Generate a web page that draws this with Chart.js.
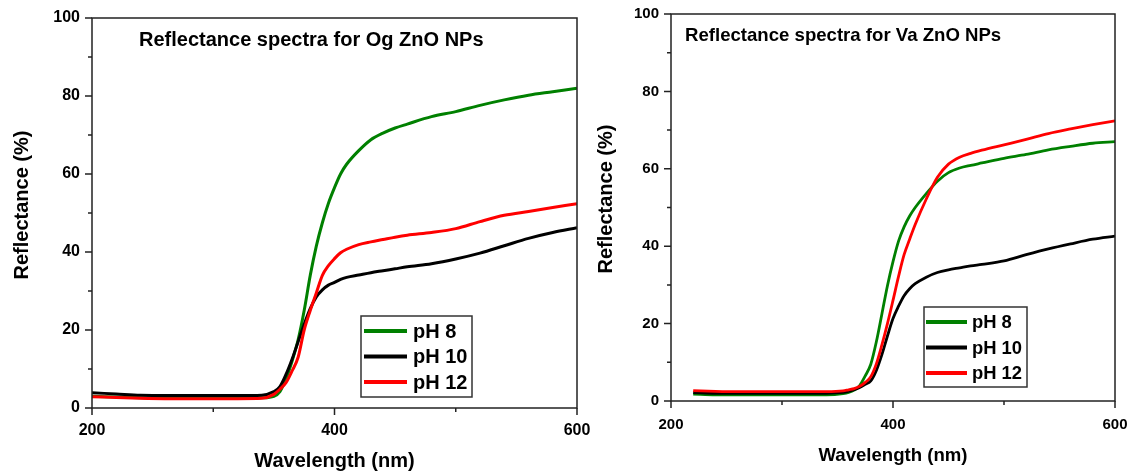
<!DOCTYPE html>
<html lang="en">
<head>
  <meta charset="UTF-8" />
  <title>Reflectance spectra for Og / Va ZnO NPs</title>
  <style>
    body { margin: 0; background: #fff; }
    .wrap { position: relative; width: 1133px; height: 473px; }
    canvas { position: absolute; top: 0; }
    #ogChart { left: 0; }
    #vaChart { left: 580px; }
  </style>
</head>
<body>
  <div class="wrap">
    <canvas id="ogChart" width="600" height="473"></canvas>
    <canvas id="vaChart" width="553" height="473"></canvas>
  </div>

  <script src="https://cdn.jsdelivr.net/npm/chart.js"></script>
  <script>
    // series names / colours
    const seriesLabels = ['pH 8', 'pH 10', 'pH 12'];
    const seriesColors = ['#008000', '#000000', '#ff0000'];

    // axis ticks
    const xMajor = [200, 400, 600];
    const xMinor = [300, 500];
    const yMajor = [0, 20, 40, 60, 80, 100];
    const yMinor = [10, 30, 50, 70, 90];

    // Og ZnO NPs (left panel)
    const ogWave = [200, 220, 240, 260, 280, 300, 320, 340, 350, 355, 360, 365, 370, 375, 380, 385, 390, 395,
                    400, 405, 410, 420, 430, 440, 450, 460, 480, 500, 520, 540, 560, 580, 600];
    const ogPH8  = [3.0, 2.8, 2.6, 2.5, 2.5, 2.5, 2.5, 2.6, 3.0, 4.2, 7.5, 12, 17.5, 25, 34, 41.5, 47.5, 52.5,
                    56.5, 60, 62.5, 66, 68.8, 70.5, 71.8, 72.8, 74.7, 76, 77.6, 79, 80.2, 81.1, 82];
    const ogPH10 = [3.9, 3.6, 3.3, 3.2, 3.2, 3.2, 3.2, 3.3, 4.2, 5.5, 8.6, 12.5, 17, 21.5, 25.5, 28.5, 30.3, 31.5,
                    32.2, 33, 33.5, 34.1, 34.7, 35.2, 35.7, 36.2, 37, 38.2, 39.7, 41.6, 43.5, 45, 46.2];
    const ogPH12 = [2.9, 2.7, 2.5, 2.4, 2.4, 2.4, 2.4, 2.5, 3.5, 4.8, 6.5, 9.5, 13, 20, 25, 29.5, 34, 36.5,
                    38.3, 39.8, 40.7, 41.9, 42.6, 43.2, 43.8, 44.3, 45, 46, 47.8, 49.4, 50.4, 51.4, 52.4];

    // Va ZnO NPs (right panel)
    const vaWave = [220, 240, 260, 280, 300, 320, 340, 355, 360, 365, 370, 375, 380, 385, 390, 395, 400, 405,
                    410, 415, 420, 430, 440, 450, 460, 470, 480, 500, 520, 540, 560, 580, 600];
    const vaPH8  = [1.8, 1.6, 1.6, 1.6, 1.6, 1.6, 1.6, 1.9, 2.2, 2.8, 4, 6.5, 9.5, 15.3, 22.5, 29.8, 36, 41.3,
                    45, 47.8, 50, 53.6, 56.8, 59, 60.2, 60.9, 61.5, 62.7, 63.7, 64.9, 65.8, 66.6, 67];
    const vaPH10 = [2.2, 2.0, 2.0, 2.0, 2.0, 2.0, 2.0, 2.2, 2.5, 2.9, 3.5, 4.3, 5.2, 7.9, 12, 16.8, 21.3, 24.5,
                    27.2, 29, 30.3, 32, 33.2, 33.9, 34.4, 34.9, 35.3, 36.2, 37.8, 39.3, 40.6, 41.8, 42.6];
    const vaPH12 = [2.7, 2.5, 2.4, 2.4, 2.4, 2.4, 2.4, 2.6, 2.9, 3.2, 3.8, 4.8, 6.3, 9.6, 14.5, 20, 26, 32.2,
                    37.8, 41.8, 45.6, 52.2, 57.8, 61.2, 63, 64, 64.8, 66.2, 67.6, 69.1, 70.3, 71.4, 72.4];

    const FONT = "'Liberation Sans', Arial, sans-serif";
    Chart.defaults.font.family = FONT;
    Chart.defaults.color = '#000';

    // frame, tick marks, inner title, y title and legend box
    const decor = {
      id: 'decor',
      afterDraw(chart, args, o) {
        const { ctx, chartArea: a, scales: { x, y } } = chart;
        ctx.save();
        ctx.strokeStyle = '#222';
        ctx.lineWidth = 1.5;
        ctx.strokeRect(a.left, a.top, a.right - a.left, a.bottom - a.top);

        ctx.beginPath();
        xMajor.forEach(v => { const p = x.getPixelForValue(v); ctx.moveTo(p, a.bottom); ctx.lineTo(p, a.bottom + o.major); });
        xMinor.forEach(v => { const p = x.getPixelForValue(v); ctx.moveTo(p, a.bottom); ctx.lineTo(p, a.bottom + o.minor); });
        yMajor.forEach(v => { const p = y.getPixelForValue(v); ctx.moveTo(a.left, p); ctx.lineTo(a.left - o.major, p); });
        yMinor.forEach(v => { const p = y.getPixelForValue(v); ctx.moveTo(a.left, p); ctx.lineTo(a.left - o.minor, p); });
        ctx.stroke();

        ctx.fillStyle = '#000';
        ctx.textBaseline = 'middle';
        ctx.textAlign = 'left';
        ctx.font = `bold ${o.titleSize}px ${FONT}`;
        ctx.fillText(o.title, o.titleX, o.titleY);

        ctx.save();
        ctx.translate(o.yTitleX, o.yTitleY);
        ctx.rotate(-Math.PI / 2);
        ctx.textAlign = 'center';
        ctx.font = `bold ${o.yTitleSize}px ${FONT}`;
        ctx.fillText('Reflectance (%)', 0, 0);
        ctx.restore();

        const L = o.legend;
        ctx.strokeStyle = '#333';
        ctx.lineWidth = 1.5;
        ctx.strokeRect(L.x, L.y, L.w, L.h);
        ctx.font = `bold ${L.size}px ${FONT}`;
        chart.data.datasets.forEach((ds, i) => {
          const ry = L.y + L.row0 + i * L.gap;
          ctx.strokeStyle = ds.borderColor;
          ctx.lineWidth = 4;
          ctx.beginPath();
          ctx.moveTo(L.x + L.line0, ry);
          ctx.lineTo(L.x + L.line1, ry);
          ctx.stroke();
          ctx.fillStyle = '#000';
          ctx.fillText(ds.label, L.x + L.text, ry + 1);
        });
        ctx.restore();
      }
    };

    function makeChart(id, wave, values, c) {
      return new Chart(document.getElementById(id), {
        type: 'line',
        data: {
          labels: wave,
          datasets: values.map((vals, i) => ({
            label: seriesLabels[i],
            data: vals.map((v, j) => ({ x: wave[j], y: v })),
            borderColor: seriesColors[i],
            borderWidth: c.lineWidth,
            pointRadius: 0,
            cubicInterpolationMode: 'monotone',
            order: 3 - i
          }))
        },
        options: {
          responsive: false,
          animation: false,
          events: [],
          layout: { padding: c.padding, autoPadding: false },
          plugins: {
            legend: { display: false },
            tooltip: { enabled: false },
            decor: c.decor
          },
          scales: {
            x: {
              type: 'linear',
              min: 200, max: 600,
              grid: { display: false, drawTicks: false },
              border: { display: false },
              afterBuildTicks: s => { s.ticks = xMajor.map(v => ({ value: v })); },
              afterFit: s => { s.height = c.xHeight; s.paddingLeft = 0; s.paddingRight = 0; },
              ticks: { font: { size: c.tickSize, weight: 'bold' }, padding: c.xPad, maxRotation: 0 },
              title: {
                display: true,
                text: 'Wavelength (nm)',
                font: { size: c.xTitleSize, weight: 'bold' },
                padding: { top: 0, bottom: c.xTitlePad }
              }
            },
            y: {
              min: 0, max: 100,
              grid: { display: false, drawTicks: false },
              border: { display: false },
              afterBuildTicks: s => { s.ticks = yMajor.map(v => ({ value: v })); },
              afterFit: s => { s.width = c.yWidth; s.paddingTop = 0; s.paddingBottom = 0; },
              ticks: { font: { size: c.tickSize, weight: 'bold' }, padding: c.yPad }
            }
          }
        },
        plugins: [decor]
      });
    }

    makeChart('ogChart', ogWave, [ogPH8, ogPH10, ogPH12], {
      lineWidth: 3,
      padding: { left: 0, right: 23, top: 18, bottom: 0 },
      yWidth: 92, xHeight: 65,
      tickSize: 16, xPad: 13, yPad: 12,
      xTitleSize: 20, xTitlePad: 0,
      decor: {
        major: 7, minor: 4,
        title: 'Reflectance spectra for Og ZnO NPs', titleSize: 20, titleX: 139, titleY: 40,
        yTitleX: 22, yTitleY: 205, yTitleSize: 20,
        legend: { x: 361, y: 316, w: 111, h: 81, row0: 15, gap: 25.5, line0: 3, line1: 46, text: 52, size: 20 }
      }
    });

    makeChart('vaChart', vaWave, [vaPH8, vaPH10, vaPH12], {
      lineWidth: 2.8,
      padding: { left: 0, right: 18, top: 14, bottom: 0 },
      yWidth: 91, xHeight: 72,
      tickSize: 15, xPad: 15, yPad: 12,
      xTitleSize: 18.6, xTitlePad: 6,
      decor: {
        major: 7, minor: 4,
        title: 'Reflectance spectra for Va ZnO NPs', titleSize: 18.6, titleX: 105, titleY: 36,
        yTitleX: 26, yTitleY: 199, yTitleSize: 20,
        legend: { x: 344, y: 307, w: 103, h: 80, row0: 15, gap: 25.5, line0: 2, line1: 43, text: 48, size: 18.4 }
      }
    });
  </script>
</body>
</html>
